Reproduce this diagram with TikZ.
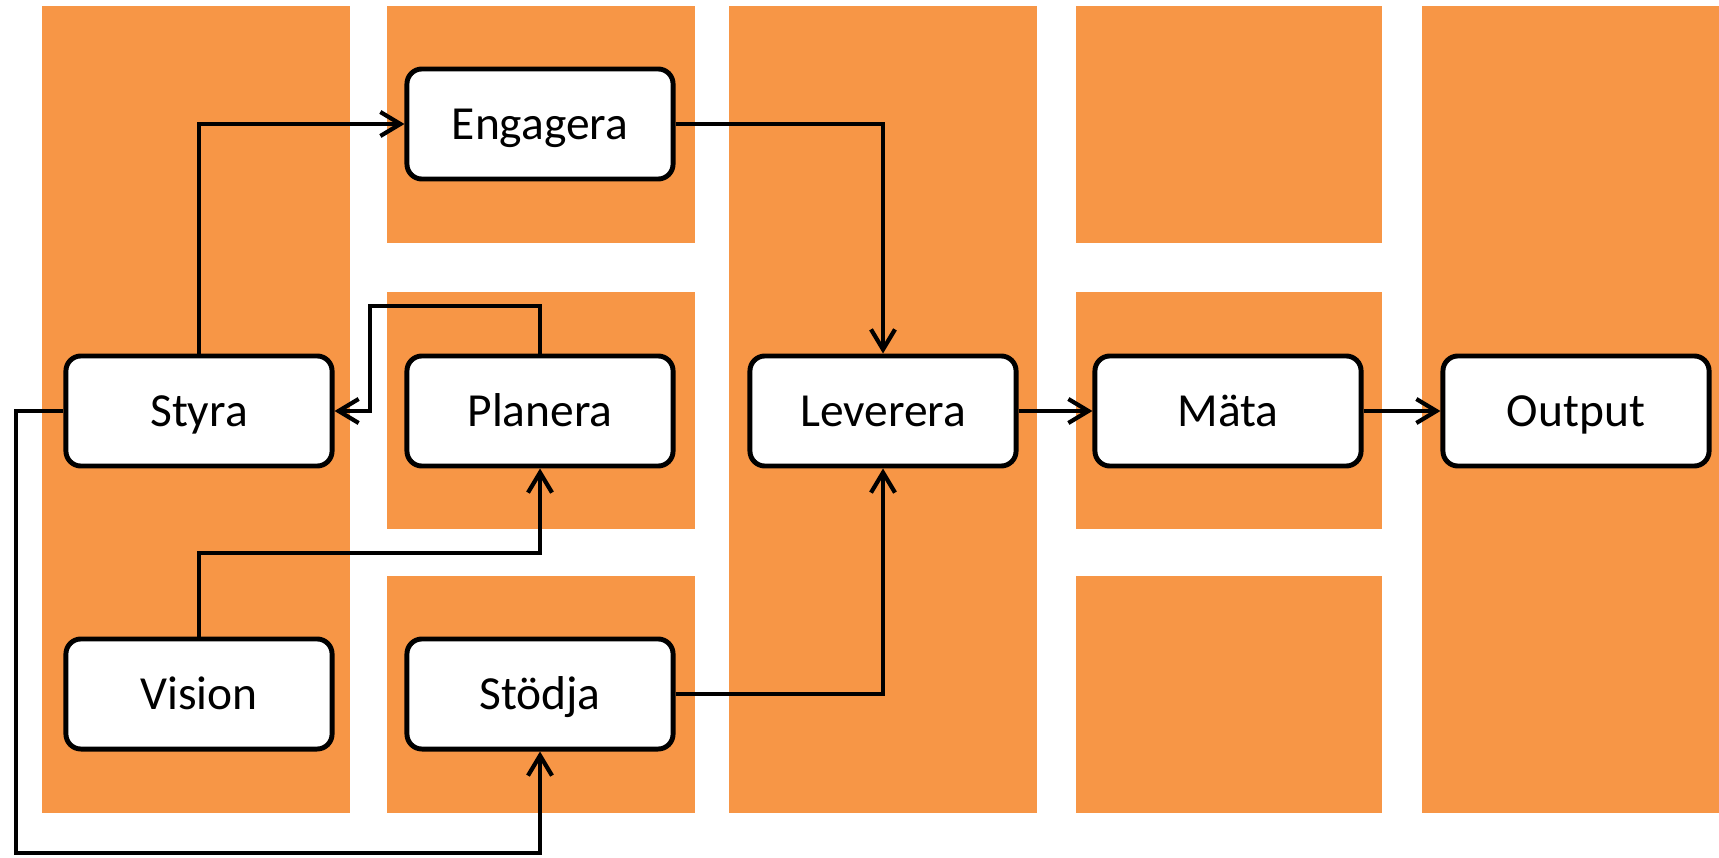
\documentclass[tikz,border=0pt]{standalone}
\usepackage{fontspec}
\setmainfont{Carlito}
\usepackage{xcolor}
\usetikzlibrary{arrows.meta}
\definecolor{orangefond}{HTML}{F79646}

\begin{document}
\begin{tikzpicture}[x=0.01cm, y=-0.01cm,
    boite/.style={draw, line width=1.4pt, fill=white, rounded corners=0.15cm,
      minimum width=2.66cm, minimum height=1.10cm, text height=8.6pt, text depth=0pt,
      font=\fontsize{13.5}{16}\selectfont},
    fleche/.style={line width=1.2pt, -{Straight Barb[length=2mm, width=2.4mm]}}]
    \useasboundingbox (0,0) rectangle (1719,858);
    % fond orange
    \fill[orangefond] (42,6) rectangle (350,813);
    \fill[orangefond] (387,6) rectangle (695,243);
    \fill[orangefond] (387,292) rectangle (695,529);
    \fill[orangefond] (387,576) rectangle (695,813);
    \fill[orangefond] (729,6) rectangle (1037,813);
    \fill[orangefond] (1076,6) rectangle (1382,243);
    \fill[orangefond] (1076,292) rectangle (1382,529);
    \fill[orangefond] (1076,576) rectangle (1382,813);
    \fill[orangefond] (1422,6) rectangle (1719,813);
    % boites
    \node[boite] (engagera) at (540,124) {Engagera};
    \node[boite] (styra) at (199,411) {Styra};
    \node[boite] (planera) at (540,411) {Planera};
    \node[boite] (vision) at (199,694) {Vision};
    \node[boite] (stodja) at (540,694) {Stödja};
    \node[boite] (leverera) at (883,411) {Leverera};
    \node[boite] (mata) at (1228,411) {Mäta};
    \node[boite] (output) at (1576,411) {Output};
    % points de passage
    \coordinate (coude) at (370,306);
    \coordinate (palier) at (540,553);
    \coordinate (bord) at (16,853);
    % fleches
    \draw[fleche] (styra.north) |- (engagera.west);
    \draw[fleche] (engagera.east) -| (leverera.north);
    \draw[fleche] (planera.north) |- (coude) |- (styra.east);
    \draw[fleche] (vision.north) |- (palier) -- (planera.south);
    \draw[fleche] (stodja.east) -| (leverera.south);
    \draw[fleche] (styra.west) -| (bord) -| (stodja.south);
    \draw[fleche] (leverera) -- (mata);
    \draw[fleche] (mata) -- (output);
\end{tikzpicture}
\end{document}
